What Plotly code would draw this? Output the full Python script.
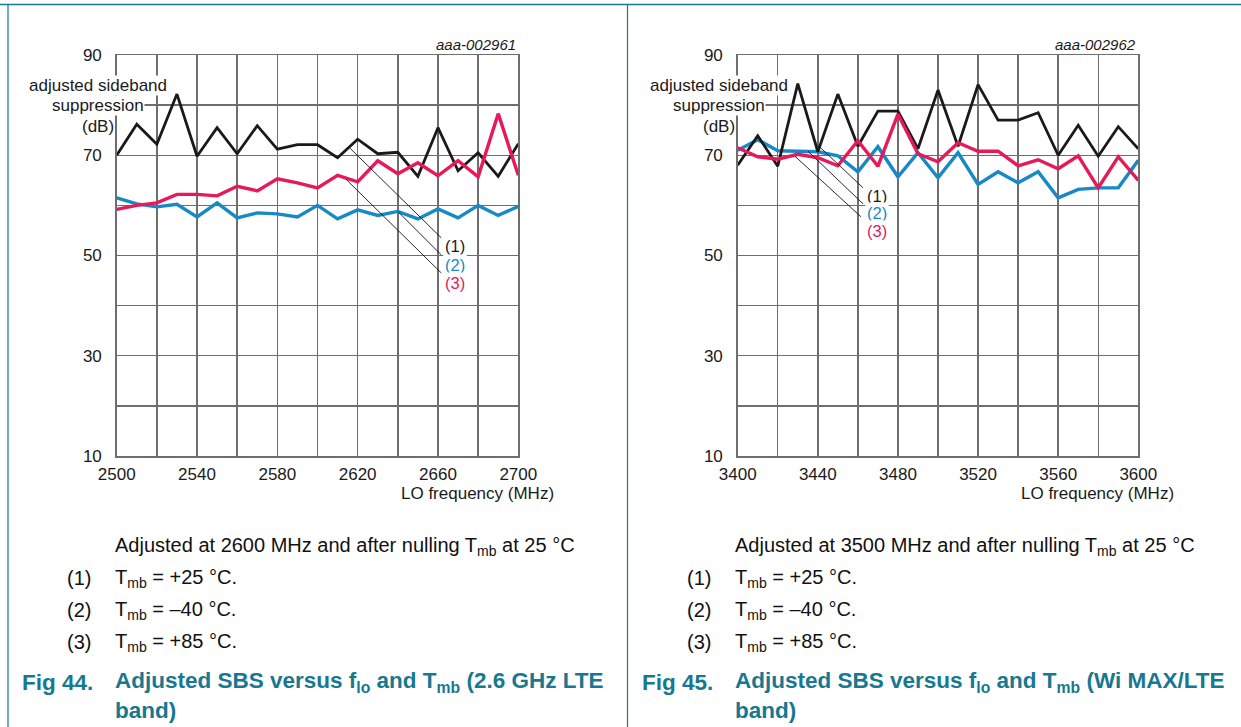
import plotly.graph_objects as go

W, H = 1241, 727

# ---------------- data ----------------
freq_a = [2500, 2510, 2520, 2530, 2540, 2550, 2560, 2570, 2580, 2590, 2600,
          2610, 2620, 2630, 2640, 2650, 2660, 2670, 2680, 2690, 2700]
sbs_a_p25 = [70.0, 76.2, 72.2, 82.2, 69.8, 75.5, 70.3, 75.9, 71.2, 72.1, 72.1,
             69.5, 73.2, 70.3, 70.6, 65.8, 75.5, 66.9, 70.5, 65.8, 72.3]
sbs_a_m40 = [61.5, 60.3, 59.7, 60.2, 57.7, 60.5, 57.5, 58.5, 58.3, 57.7, 60.0,
             57.3, 59.1, 58.0, 58.8, 57.3, 59.3, 57.5, 60.0, 58.0, 59.8]
sbs_a_p85 = [59.2, 60.0, 60.5, 62.2, 62.2, 61.9, 63.8, 62.9, 65.3, 64.5, 63.5,
             66.0, 64.7, 68.9, 66.3, 68.5, 65.9, 68.9, 65.7, 78.3, 66.0]

freq_b = [3400, 3410, 3420, 3430, 3440, 3450, 3460, 3470, 3480, 3490, 3500,
          3510, 3520, 3530, 3540, 3550, 3560, 3570, 3580, 3590, 3600]
sbs_b_p25 = [68.0, 73.9, 67.8, 84.3, 70.7, 82.2, 71.8, 78.8, 78.8, 71.3, 83.0,
             71.8, 84.1, 77.0, 77.0, 78.5, 70.0, 76.0, 69.8, 75.7, 71.3]
sbs_b_m40 = [71.0, 73.1, 70.9, 70.8, 70.7, 69.9, 66.7, 71.7, 65.7, 70.5, 65.5,
             70.5, 64.2, 66.7, 64.5, 66.7, 61.5, 63.2, 63.5, 63.5, 69.0]
sbs_b_p85 = [71.5, 69.7, 69.2, 70.2, 69.5, 67.9, 72.9, 67.8, 78.2, 70.3, 68.7,
             72.5, 70.8, 70.8, 67.9, 69.1, 67.3, 69.9, 63.5, 69.7, 65.0]

x_ticks_a = [2500, 2540, 2580, 2620, 2660, 2700]
x_ticks_b = [3400, 3440, 3480, 3520, 3560, 3600]
y_ticks = [10, 30, 50, 70, 90]

curve_labels = ["(1)", "(2)", "(3)"]
doc_ids = ["aaa-002961", "aaa-002962"]

# ---------------- style ----------------
FONT = "Liberation Sans, Arial, sans-serif"
BLACK = "#1a1a1a"
RED = "#e8195b"
BLUE = "#1789c6"
TEAL = "#17788f"
GRID = "#6e6e6e"


def P(px, py):
    return px / W, 1 - py / H


fig = go.Figure()

panels = [
    dict(x=freq_a, ys=(sbs_a_m40, sbs_a_p25, sbs_a_p85), xa="x", ya="y",
         left=116.7, right=518.3, ticks=x_ticks_a, rng=[2500, 2700]),
    dict(x=freq_b, ys=(sbs_b_m40, sbs_b_p25, sbs_b_p85), xa="x2", ya="y2",
         left=737.7, right=1138.3, ticks=x_ticks_b, rng=[3400, 3600]),
]
top_px, bot_px = 55, 456

for i, p in enumerate(panels):
    m40, p25, p85 = p["ys"]
    for ys, col, w in ((m40, BLUE, 3.4), (p25, BLACK, 2.8), (p85, RED, 3.4)):
        fig.add_trace(go.Scatter(x=p["x"], y=ys, mode="lines",
                                 line=dict(color=col, width=w),
                                 xaxis=p["xa"], yaxis=p["ya"],
                                 showlegend=False, hoverinfo="skip"))
    sfx = "" if i == 0 else "2"
    axis_common = dict(showline=True, linecolor=GRID, linewidth=1.5, mirror=True,
                       showgrid=True, gridcolor=GRID, gridwidth=1.4,
                       zeroline=False, ticks="", automargin=False,
                       tickfont=dict(family=FONT, size=17, color="#1a1a1a"))
    fig.layout["xaxis" + sfx] = dict(
        axis_common, domain=[p["left"] / W, p["right"] / W], range=p["rng"],
        tickvals=p["ticks"], anchor="y" + sfx, ticklabelstandoff=2,
        minor=dict(dtick=20, tick0=p["rng"][0], showgrid=True,
                   gridcolor=GRID, gridwidth=1.4, ticks=""))
    fig.layout["yaxis" + sfx] = dict(
        axis_common, domain=[1 - bot_px / H, 1 - top_px / H], range=[10, 90],
        tickvals=y_ticks, anchor="x" + sfx, ticklabelstandoff=10,
        minor=dict(dtick=10, tick0=10, showgrid=True,
                   gridcolor=GRID, gridwidth=1.4, ticks=""))

ann = []
shapes = []

# y-axis titles, x-axis titles, doc ids
for i, p in enumerate(panels):
    cx = p["left"] - 18.7
    for txt, py in (("adjusted sideband", 85), ("suppression", 106), ("(dB)", 127)):
        x, y = P(cx, py)
        ann.append(dict(x=x, y=y, xref="paper", yref="paper", text=txt,
                        showarrow=False, xanchor="center", yanchor="middle",
                        bgcolor="white", borderpad=0,
                        font=dict(family=FONT, size=17, color="#1a1a1a")))
    x, y = P(p["right"] + 38, 493)
    ann.append(dict(x=x, y=y, xref="paper", yref="paper", text="LO frequency (MHz)",
                    showarrow=False, xanchor="right", yanchor="middle",
                    font=dict(family=FONT, size=17, color="#1a1a1a")))
    x, y = P(p["right"], 45)
    ann.append(dict(x=x, y=y, xref="paper", yref="paper", text="<i>" + doc_ids[i] + "</i>",
                    showarrow=False, xanchor="right", yanchor="middle",
                    font=dict(family=FONT, size=15, color="#1a1a1a")))

# callout leader lines + labels (data coordinates)
callouts = [
    dict(xr="x", yr="y",
         lines=[((2616.2, 71.4), (2661.7, 53.5)),
                ((2640.2, 58.7), (2661.7, 50.1)),
                ((2614.2, 65.2), (2661.7, 46.5))],
         labels=[(2662.5, 51.8), (2662.5, 48.1), (2662.5, 44.5)]),
    dict(xr="x2", yr="y2",
         lines=[((3441.1, 71.6), (3462.6, 63.5)),
                ((3435.1, 70.8), (3462.6, 60.3)),
                ((3428.6, 69.8), (3461.6, 57.7))],
         labels=[(3463.5, 61.8), (3463.5, 58.4), (3463.5, 54.9)]),
]
lab_cols = [BLACK, BLUE, RED]
for c in callouts:
    for (a, b) in c["lines"]:
        shapes.append(dict(type="line", xref=c["xr"], yref=c["yr"],
                           x0=a[0], y0=a[1], x1=b[0], y1=b[1],
                           line=dict(color="#111111", width=0.9)))
    for k, (lx, ly) in enumerate(c["labels"]):
        ann.append(dict(x=lx, y=ly, xref=c["xr"], yref=c["yr"], text=curve_labels[k],
                        showarrow=False, xanchor="left", yanchor="middle",
                        bgcolor="white", borderpad=1,
                        font=dict(family=FONT, size=16.5, color=lab_cols[k])))

# captions
CAP = dict(family=FONT, size=20, color="#111111")
BOLD = dict(family=FONT, size=22.5, color=TEAL)
for off, mhz, fig_no, title in ((0, "2600", "44", "(2.6 GHz LTE"),
                                 (620, "3500", "45", "(Wi MAX/LTE")):
    def add(px, py, text, font, anchor="left"):
        x, y = P(px + off, py)
        ann.append(dict(x=x, y=y, xref="paper", yref="paper", text=text,
                        showarrow=False, xanchor=anchor, yanchor="middle", font=font))
    add(113, 546, "Adjusted at " + mhz + " MHz and after nulling T<sub>mb</sub> at 25 °C", CAP)
    for k, (tval, py) in enumerate((("+25", 578), ("–40", 610), ("+85", 642))):
        add(65, py, "(" + str(k + 1) + ")", CAP)
        add(113, py, "T<sub>mb</sub> = " + tval + " °C.", CAP)
    add(20, 682, "<b>Fig " + fig_no + ".</b>", BOLD)
    add(113, 682, "<b>Adjusted SBS versus f<sub>lo</sub> and T<sub>mb</sub> " + title + "</b>", BOLD)
    add(113, 710, "<b>band)</b>", BOLD)

# frame lines
shapes.append(dict(type="line", xref="paper", yref="paper", x0=0, x1=1,
                   y0=1 - 4.5 / H, y1=1 - 4.5 / H, line=dict(color=TEAL, width=1.5)))
for px in (8, 627.5):
    shapes.append(dict(type="line", xref="paper", yref="paper", x0=px / W, x1=px / W,
                       y0=0, y1=1 - 4.5 / H, line=dict(color=TEAL, width=1.2)))

fig.update_layout(width=W, height=H, margin=dict(l=0, r=0, t=0, b=0, autoexpand=False),
                  paper_bgcolor="white", plot_bgcolor="white",
                  annotations=ann, shapes=shapes, showlegend=False)

fig.write_html("out.html",
               config={"displayModeBar": False, "staticPlot": True},
               post_script="document.body.style.margin='0';"
                           "document.body.style.overflow='hidden';")
